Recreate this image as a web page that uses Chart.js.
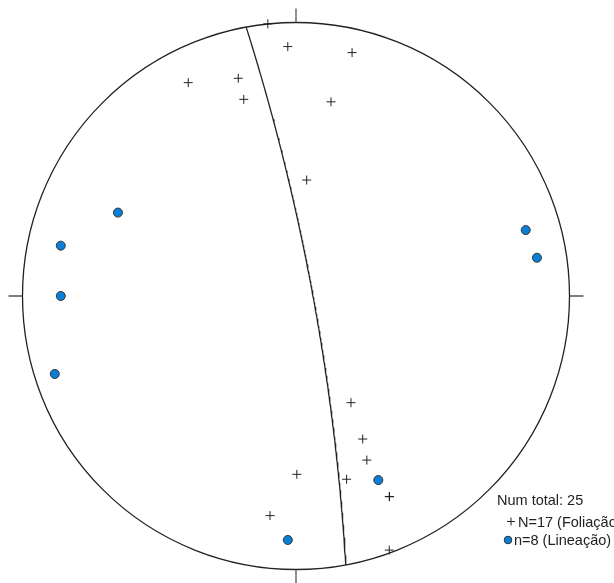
<!DOCTYPE html>
<html>
<head>
<meta charset="utf-8">
<script src="https://cdn.jsdelivr.net/npm/chart.js@4/dist/chart.umd.min.js"></script>
<style>
html,body{margin:0;padding:0;background:#fff;}
canvas{display:block;}
</style>
</head>
<body>
<canvas id="c" width="614" height="583"></canvas>
<script>
// Poles to foliation (normalized net coordinates: east, north)
const foliacaoX = [-0.103,-0.030,0.205,-0.394,-0.211,-0.191,0.128,0.039,0.201,0.244,0.259,0.185,0.341,0.342,0.003,-0.095,0.341];
const foliacaoY = [0.995,0.912,0.890,0.780,0.796,0.719,0.710,0.424,-0.390,-0.523,-0.600,-0.670,-0.734,-0.733,-0.652,-0.803,-0.929];
// Lineations
const lineacaoX = [-0.651,-0.860,-0.860,-0.882,0.840,0.881,0.301,-0.030];
const lineacaoY = [0.305,0.184,0.000,-0.285,0.241,0.140,-0.673,-0.892];
// Great circle plane (strike, dip in degrees)
const planeStrike = 349.5;
const planeDip = 83;
const legendTitle = "Num total: ";
const labelFoliacao = "Foliação";
const labelLineacao = "Lineação";

function greatCircle(strike, dip){
  const pts=[]; const r=Math.PI/180;
  const s=[Math.sin(strike*r),Math.cos(strike*r),0];
  const dd=(strike+90)*r;
  const d=[Math.cos(dip*r)*Math.sin(dd),Math.cos(dip*r)*Math.cos(dd),Math.sin(dip*r)];
  for(let i=0;i<=180;i++){
    const t=i*r;
    const e=Math.cos(t)*s[0]+Math.sin(t)*d[0];
    const n=Math.cos(t)*s[1]+Math.sin(t)*d[1];
    const z=Math.cos(t)*s[2]+Math.sin(t)*d[2];
    pts.push({x:e/(1+z),y:n/(1+z)});
  }
  return pts;
}

const netPlugin={
  id:'net',
  beforeDatasetsDraw(chart){
    const ctx=chart.ctx, xs=chart.scales.x, ys=chart.scales.y;
    const cx=xs.getPixelForValue(0), cy=ys.getPixelForValue(0);
    const R=xs.getPixelForValue(1)-cx;
    ctx.save();
    ctx.strokeStyle='#222'; ctx.lineWidth=1.3;
    ctx.beginPath(); ctx.arc(cx,cy,R,0,Math.PI*2); ctx.stroke();
    ctx.strokeStyle='#555'; ctx.lineWidth=1.3;
    const L=14;
    ctx.beginPath();
    ctx.moveTo(cx,cy-R); ctx.lineTo(cx,cy-R-L);
    ctx.moveTo(cx,cy+R); ctx.lineTo(cx,cy+R+L);
    ctx.moveTo(cx-R,cy); ctx.lineTo(cx-R-L,cy);
    ctx.moveTo(cx+R,cy); ctx.lineTo(cx+R+L,cy);
    ctx.stroke();
    ctx.restore();
  },
  afterDraw(chart){
    const ctx=chart.ctx;
    ctx.save();
    ctx.font='14.5px "Liberation Sans", Arial, sans-serif';
    ctx.fillStyle='#222';
    ctx.textBaseline='alphabetic';
    const nF=foliacaoX.length, nL=lineacaoX.length;
    ctx.fillText(legendTitle+(nF+nL),497,505);
    ctx.strokeStyle='#222'; ctx.lineWidth=1;
    ctx.beginPath(); ctx.moveTo(507,521.5); ctx.lineTo(515,521.5); ctx.moveTo(511,517.5); ctx.lineTo(511,525.5); ctx.stroke();
    ctx.fillText('N='+nF+' ('+labelFoliacao+')',518,526.5);
    ctx.beginPath(); ctx.arc(508,540,3.8,0,Math.PI*2);
    ctx.fillStyle='#0A7FD8'; ctx.fill(); ctx.strokeStyle='#333'; ctx.stroke();
    ctx.fillStyle='#222';
    ctx.fillText('n='+nL+' ('+labelLineacao+')',514,545);
    ctx.restore();
  }
};

new Chart(document.getElementById('c'),{
  type:'scatter',
  data:{datasets:[
    {data:greatCircle(planeStrike,planeDip),showLine:true,borderColor:'#222',borderWidth:1.3,pointRadius:0,fill:false,tension:0,clip:false},
    {data:foliacaoX.map((x,i)=>({x,y:foliacaoY[i]})),pointStyle:'cross',pointRadius:4.5,borderColor:'#222',borderWidth:1,backgroundColor:'#222',clip:false},
    {data:lineacaoX.map((x,i)=>({x,y:lineacaoY[i]})),pointStyle:'circle',pointRadius:4.5,backgroundColor:'#0A7FD8',borderColor:'#333',borderWidth:1,clip:false}
  ]},
  options:{
    responsive:false,animation:false,
    layout:{padding:{left:22.5,top:22.5,right:44.5,bottom:13.5}},
    scales:{x:{type:'linear',min:-1,max:1,display:false},y:{type:'linear',min:-1,max:1,display:false}},
    plugins:{legend:{display:false},tooltip:{enabled:false}}
  },
  plugins:[netPlugin]
});
</script>
</body>
</html>
